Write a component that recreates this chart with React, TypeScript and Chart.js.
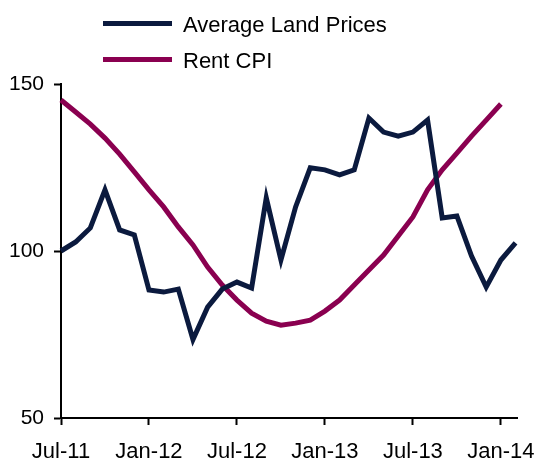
import React, { useEffect, useRef } from "react";
import { Chart, registerables } from "chart.js";

Chart.register(...registerables);

const months = [
  "Jul-11", "Aug-11", "Sep-11", "Oct-11", "Nov-11", "Dec-11",
  "Jan-12", "Feb-12", "Mar-12", "Apr-12", "May-12", "Jun-12",
  "Jul-12", "Aug-12", "Sep-12", "Oct-12", "Nov-12", "Dec-12",
  "Jan-13", "Feb-13", "Mar-13", "Apr-13", "May-13", "Jun-13",
  "Jul-13", "Aug-13", "Sep-13", "Oct-13", "Nov-13", "Dec-13",
  "Jan-14", "Feb-14",
];

const landPrices = [
  100.0, 102.7, 106.9, 118.3, 106.3, 104.8, 88.3, 87.7, 88.6, 73.5,
  83.2, 88.6, 90.7, 88.9, 115.9, 97.3, 113.2, 124.9, 124.3, 122.8,
  124.3, 139.8, 135.6, 134.4, 135.6, 139.2, 109.9, 110.5, 98.5, 89.2,
  97.3, 102.4,
];

const rentCPI = [
  145.2, 141.6, 138.0, 133.8, 129.0, 123.7, 118.3, 113.2, 107.2, 101.8,
  95.2, 89.8, 85.3, 81.4, 79.0, 77.8, 78.4, 79.3, 82.0, 85.3,
  89.8, 94.3, 98.8, 104.5, 110.2, 118.3, 124.3, 129.3, 134.4, 139.2,
  144.0,
];

const tickMonths = ["Jul-11", "Jan-12", "Jul-12", "Jan-13", "Jul-13", "Jan-14"];
const yTicks = [50, 100, 150];

const seriesNames = ["Average Land Prices", "Rent CPI"];
const seriesColors = ["#0B1A3E", "#8A0050"];

const FAMILY = "'Liberation Sans', Arial, sans-serif";

const legendPlugin = {
  id: "stackedLegend",
  afterDraw(chart: any) {
    const ctx = chart.ctx;
    ctx.save();
    const lineY = [23.5, 59.5];
    const textY = [32, 68];
    chart.data.datasets.forEach((ds: any, i: number) => {
      ctx.strokeStyle = ds.borderColor;
      ctx.lineWidth = 5;
      ctx.lineCap = "butt";
      ctx.beginPath();
      ctx.moveTo(103, lineY[i]);
      ctx.lineTo(172, lineY[i]);
      ctx.stroke();
      ctx.fillStyle = "#000";
      ctx.font = `22px ${FAMILY}`;
      ctx.textBaseline = "alphabetic";
      ctx.textAlign = "left";
      ctx.fillText(ds.label, 183, textY[i]);
    });
    ctx.restore();
  },
};

export default function App() {
  const ref = useRef<HTMLCanvasElement | null>(null);

  useEffect(() => {
    if (!ref.current) return;
    const chart = new Chart(ref.current, {
      type: "line",
      data: {
        datasets: [
          {
            label: seriesNames[0],
            data: landPrices.map((v, i) => ({ x: i, y: v })),
            borderColor: seriesColors[0],
            backgroundColor: seriesColors[0],
            borderWidth: 5,
            pointRadius: 0,
            tension: 0,
            clip: false as any,
          },
          {
            label: seriesNames[1],
            data: rentCPI.map((v, i) => ({ x: i, y: v })),
            borderColor: seriesColors[1],
            backgroundColor: seriesColors[1],
            borderWidth: 5,
            pointRadius: 0,
            tension: 0,
            clip: false as any,
          },
        ],
      },
      options: {
        animation: false,
        responsive: false,
        devicePixelRatio: 1,
        layout: { padding: { top: 84, right: 19, left: 0, bottom: 0 } },
        plugins: {
          legend: { display: false },
          tooltip: { enabled: false },
        },
        scales: {
          x: {
            type: "linear",
            min: 0,
            max: 31.1,
            afterBuildTicks: (scale: any) => {
              scale.ticks = tickMonths.map((m) => ({ value: months.indexOf(m) }));
            },
            afterFit: (scale: any) => {
              scale.height = 41;
              scale.paddingRight = 0;
              scale.paddingLeft = 0;
            },
            ticks: {
              color: "#000",
              font: { family: FAMILY, size: 22 },
              padding: 14,
              maxRotation: 0,
              autoSkip: false,
              callback: (v: any) => months[Math.round(Number(v))],
            },
            grid: {
              display: true,
              drawOnChartArea: false,
              drawTicks: true,
              tickLength: 7,
              tickWidth: 2,
              color: "#000",
            },
            border: { display: true, color: "#000", width: 2 },
          },
          y: {
            min: 50,
            max: 150,
            afterBuildTicks: (scale: any) => {
              scale.ticks = yTicks.map((v) => ({ value: v }));
            },
            afterFit: (scale: any) => {
              scale.width = 61;
            },
            ticks: {
              color: "#000",
              font: { family: FAMILY, size: 21 },
              padding: 10,
            },
            grid: {
              display: true,
              drawOnChartArea: false,
              drawTicks: true,
              tickLength: 7,
              tickWidth: 2,
              color: "#000",
            },
            border: { display: true, color: "#000", width: 2 },
          },
        },
      },
      plugins: [legendPlugin],
    });
    return () => chart.destroy();
  }, []);

  return (
    <div style={{ position: "absolute", left: 0, top: 0, width: 536, height: 459, background: "#fff" }}>
      <canvas ref={ref} width={536} height={459} />
    </div>
  );
}
